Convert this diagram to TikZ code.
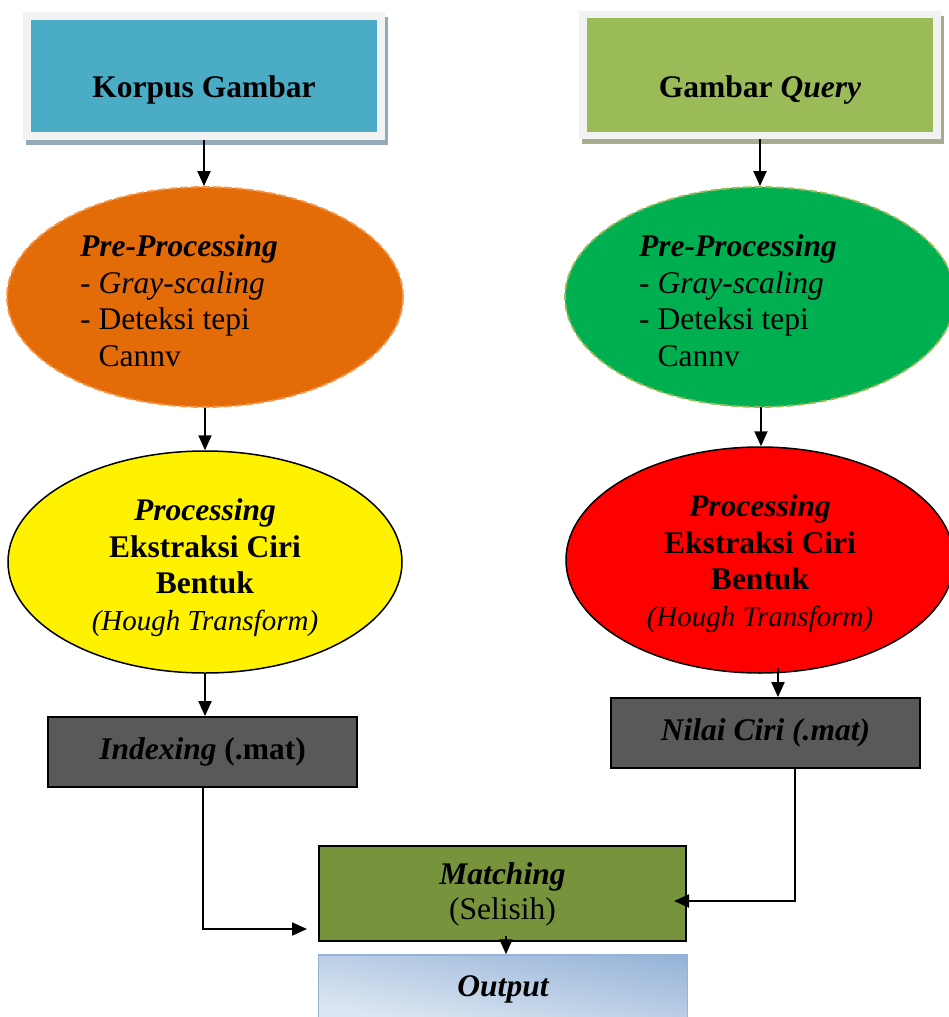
\documentclass[tikz,border=0pt]{standalone}
\usepackage{fontspec}
\setmainfont{Liberation Serif}
\usetikzlibrary{shapes.geometric,arrows.meta,backgrounds}

\definecolor{framegray}{HTML}{F2F2F2}
\definecolor{aquafill}{HTML}{4BACC6}
\definecolor{aquashadow}{HTML}{93ABB8}
\definecolor{olivefill}{HTML}{9BBB59}
\definecolor{oliveshadow}{HTML}{A5AD8C}
\definecolor{orangefill}{HTML}{E36C09}
\definecolor{orangerim}{HTML}{F79646}
\definecolor{greenfill}{HTML}{00B050}
\definecolor{greenrim}{HTML}{9BBB59}
\definecolor{boxgray}{HTML}{595959}
\definecolor{matchfill}{HTML}{77933C}
\definecolor{outlight}{HTML}{DCE6F2}
\definecolor{outdark}{HTML}{95B3D7}

\pgfdeclarehorizontalshading{outshade}{100bp}{%
  color(0bp)=(outlight); color(30bp)=(outlight); color(78bp)=(outdark); color(100bp)=(outlight)}

\begin{document}
\begin{tikzpicture}[x=1pt,y=-1pt,
  frame/.style={rectangle, fill=framegray, inner sep=0, minimum width=362pt, minimum height=128pt},
  titlebox/.style={rectangle, inner sep=0, minimum width=346pt},
  blob/.style={ellipse, inner sep=0},
  dashrim/.style={dash pattern=on 8pt off 3pt, line width=1.8pt},
  solidrim/.style={draw=black, line width=1.5pt},
  greybox/.style={rectangle, fill=boxgray, draw=black, line width=1.8pt, inner sep=0,
    minimum width=309pt, minimum height=70pt, font=\bfseries\fontsize{31.5}{36.5}\selectfont},
  txt/.style={inner sep=0, font=\fontsize{31.5}{36.5}\selectfont},
  arr/.style={draw=black, line width=2pt, -{Triangle[length=15pt,width=13pt]}}
]
\useasboundingbox (0,0) rectangle (949,1017);

% input boxes with frame and shadow
\node[frame] (kframe) at (204,76) {};
\node[titlebox, fill=aquafill, minimum height=112pt] (korpus) at (204,76) {};
\node[txt, font=\bfseries\fontsize{31.5}{36.5}\selectfont, anchor=base] (korpustext) at (204,97) {Korpus Gambar};
\node[frame] (qframe) at (760,75) {};
\node[titlebox, fill=olivefill, minimum height=114pt] (query) at (760,75) {};
\node[txt, font=\bfseries\fontsize{31.5}{36.5}\selectfont, anchor=base] (querytext) at (760,97) {Gambar \textit{Query}};
\begin{scope}[on background layer]
  \fill[aquashadow] ([shift={(3,5)}]kframe.south west) rectangle ([shift={(3,5)}]kframe.north east);
  \fill[oliveshadow] ([shift={(3,5)}]qframe.south west) rectangle ([shift={(3,5)}]qframe.north east);
\end{scope}

% pre-processing ellipses (text anchored at the baseline of its last line)
\node[blob, fill=orangefill, draw=orangerim, dashrim, minimum width=396pt, minimum height=220pt] (preL) at (205,297) {};
\node[blob, fill=greenfill, draw=greenrim, dashrim, minimum width=390pt, minimum height=220pt] (preR) at (760,297) {};
\node[txt, anchor=base west, align=left] (preLtext) at (80,366)
  {\textbf{\textit{Pre-Processing}}\\- \textit{Gray-scaling}\\- Deteksi tepi\\\phantom{- }Cannv};
\node[txt, anchor=base west, align=left] (preRtext) at (639,366)
  {\textbf{\textit{Pre-Processing}}\\- \textit{Gray-scaling}\\- Deteksi tepi\\\phantom{- }Cannv};

% processing ellipses
\node[blob, fill=yellow, solidrim, minimum width=394pt, minimum height=222pt] (procL) at (205,562) {};
\node[blob, fill=red, solidrim, minimum width=388pt, minimum height=226pt] (procR) at (760,560) {};
\node[txt, anchor=base, align=center] (procLtext) at (205,630)
  {\textbf{\textit{Processing}}\\\textbf{Ekstraksi Ciri}\\\textbf{Bentuk}\\{\fontsize{29}{36.5}\selectfont\textit{(Hough Transform)}}};
\node[txt, anchor=base, align=center] (procRtext) at (760,626)
  {\textbf{\textit{Processing}}\\\textbf{Ekstraksi Ciri}\\\textbf{Bentuk}\\{\fontsize{29}{36.5}\selectfont\textit{(Hough Transform)}}};

% feature stores
\node[greybox] (idx) at (202.5,752) {\textit{Indexing} (.mat)};
\node[greybox] (nilai) at (765.5,733) {\textit{Nilai Ciri (.mat)}};

% matching and output
\node[rectangle, fill=matchfill, draw=black, line width=1.8pt, inner sep=0,
  minimum width=367pt, minimum height=95pt] (match) at (502.5,893.5) {};
\node[txt, anchor=base, align=center, font=\fontsize{31.5}{35}\selectfont] (matchtext) at (502.5,919)
  {\textbf{\textit{Matching}}\\(Selisih)};
\node[rectangle, shading=outshade, shading angle=80, draw=outdark, line width=1.5pt, inner sep=0,
  minimum width=369pt, minimum height=72pt] (out) at (503,991) {};
\node[txt, font=\bfseries\itshape\fontsize{31.5}{36.5}\selectfont, anchor=base] (outtext) at (503,996) {Output};

% connectors
\draw[arr] (kframe.south) -- (kframe.south |- preL.north);
\draw[arr] (qframe.south) -- (qframe.south |- preR.north);
\draw[arr] (preL.south) -- (preL.south |- procL.north);
\coordinate (gb) at (761,407);
\draw[arr] (gb) -- (gb |- procR.north);
\draw[arr] (procL.south) -- (procL.south |- idx.north);
\coordinate (rb) at (778,668);
\draw[arr] (rb) -- (rb |- nilai.north);
\coordinate (mL) at (307,929);
\draw[arr] (idx.south) |- (mL);
\coordinate (mR) at (674,901);
\draw[arr] ([xshift=29.5pt]nilai.south) |- (mR);
\coordinate (mb) at (506,936);
\draw[arr] (mb) -- (mb |- out.north);
\end{tikzpicture}
\end{document}
